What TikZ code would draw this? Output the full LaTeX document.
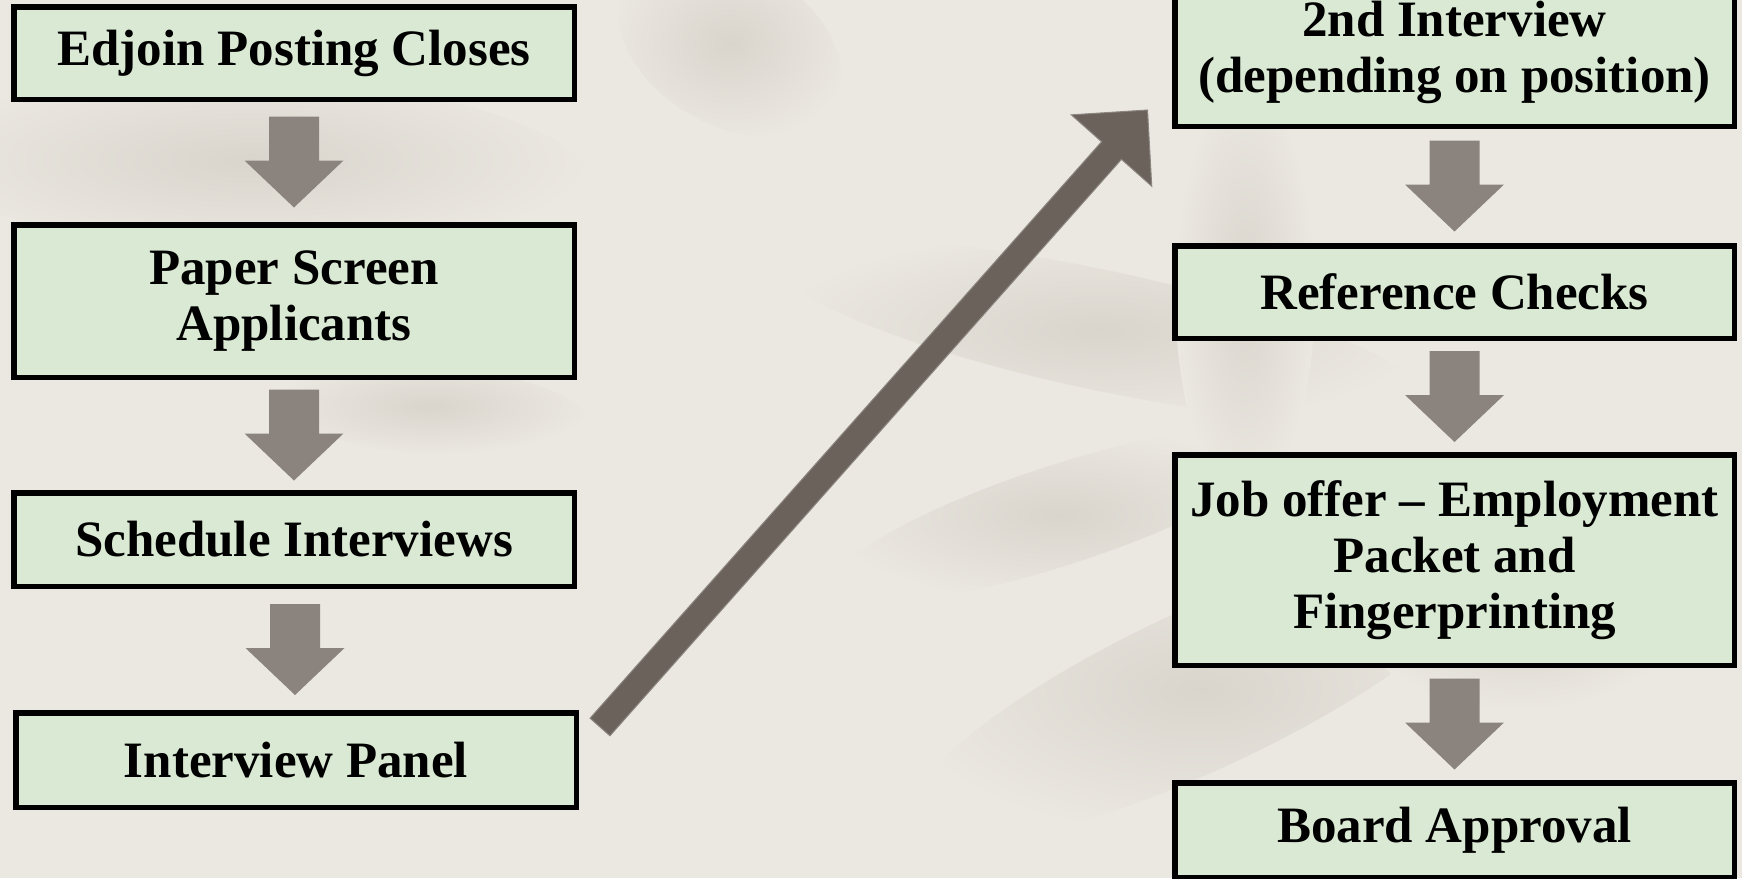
\documentclass[tikz,border=0pt]{standalone}
\usepackage{fontspec}
\setmainfont{Liberation Serif}
\usetikzlibrary{calc}
\definecolor{bgcol}{HTML}{EBE8E1}
\definecolor{boxfill}{HTML}{D9E9D3}
\definecolor{blockarr}{HTML}{8A837E}
\definecolor{diagarr}{HTML}{6B625C}
\definecolor{diagedge}{HTML}{8C8580}
\definecolor{leaf}{HTML}{D9D5CD}
\newcommand{\downblock}[2]{%
  \coordinate (m) at ($(#1.south)!0.5!(#2.north)$);
  \fill[blockarr] ($(m)+(-25,45.5)$) -- ($(m)+(25,45.5)$) -- ($(m)+(25,1.5)$) -- ($(m)+(49.5,1.5)$) -- ($(m)+(0,-45.5)$) -- ($(m)+(-49.5,1.5)$) -- ($(m)+(-25,1.5)$) -- cycle;}
\newcommand{\leafshadow}[5]{%
  \begin{scope}[shift={(#1,#2)},rotate=#5]
    \shade[inner color=leaf, outer color=bgcol] (0,0) ellipse ({#3} and {#4});
  \end{scope}}
\tikzset{
  stepbox/.style={draw=black, line width=5.5pt, fill=boxfill, align=center,
    font=\bfseries\fontsize{51}{56}\selectfont, inner sep=0pt},
}
\begin{document}
\begin{tikzpicture}[x=1pt,y=1pt]
\fill[bgcol] (0,0) rectangle (1742,-878);
\useasboundingbox (0,0) rectangle (1742,-878);
% faint background shadows
\leafshadow{250}{-165}{340}{90}{-3}
\leafshadow{430}{-410}{160}{45}{-5}
\leafshadow{730}{-45}{120}{80}{-30}
\leafshadow{1100}{-330}{330}{60}{-12}
\leafshadow{1060}{-515}{240}{50}{18}
\leafshadow{1200}{-690}{320}{80}{25}
\leafshadow{1245}{-290}{70}{210}{0}
\leafshadow{1520}{-620}{160}{90}{0}
% left column
\node[stepbox, minimum width=560.5pt, minimum height=92.5pt] (e1) at (294,-53) {Edjoin Posting Closes};
\node[stepbox, minimum width=560.5pt, minimum height=152.5pt] (e2) at (294,-301) {Paper Screen\\Applicants};
\node[stepbox, minimum width=560.5pt, minimum height=93.5pt] (e3) at (294,-539.5) {Schedule Interviews};
\node[stepbox, minimum width=560.5pt, minimum height=94.5pt] (e4) at (296,-760) {Interview Panel};
% right column
\node[stepbox, minimum width=559.5pt, minimum height=148.5pt] (r1) at (1454.5,-52) {2nd Interview\\(depending on position)};
\node[stepbox, minimum width=559.5pt, minimum height=92.5pt] (r2) at (1454.5,-292) {Reference Checks};
\node[stepbox, minimum width=559.5pt, minimum height=210.5pt] (r3) at (1454.5,-560) {Job offer – Employment\\Packet and\\Fingerprinting};
\node[stepbox, minimum width=559.5pt, minimum height=94.5pt] (r4) at (1454.5,-830) {Board Approval};
% block arrows
\downblock{e1}{e2}
\downblock{e2}{e3}
\downblock{e3}{e4}
\downblock{r1}{r2}
\downblock{r2}{r3}
\downblock{r3}{r4}
% diagonal arrow
\coordinate (dtail) at ($(e4.north east)+(21,-17)$);
\coordinate (dtip) at ($(r1.south west)+(-24.5,19)$);
\filldraw[fill=diagarr, draw=diagedge, line width=1pt, line join=miter]
  let \p1=($(dtip)-(dtail)$), \n1={atan2(\y1,\x1)}, \n2={veclen(\x1,\y1)} in
  ($(dtail)+(\n1-90:13.25)$)
  -- ($(dtail)+(\n1:{\n2-54})+(\n1-90:13.25)$)
  -- ($(dtail)+(\n1:{\n2-54})+(\n1-90:53.75)$)
  -- (dtip)
  -- ($(dtail)+(\n1:{\n2-54})+(\n1+90:53.75)$)
  -- ($(dtail)+(\n1:{\n2-54})+(\n1+90:13.25)$)
  -- ($(dtail)+(\n1+90:13.25)$) -- cycle;
\end{tikzpicture}
\end{document}
